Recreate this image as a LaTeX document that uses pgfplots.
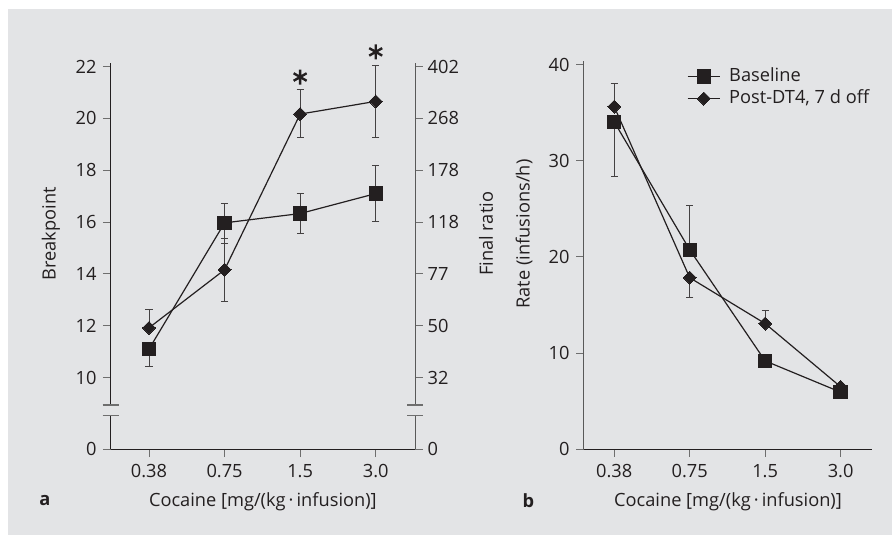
\documentclass[border=0pt]{standalone}
\usepackage{pgfplots}
\pgfplotsset{compat=1.18}
\usepackage{fontspec}
\setmainfont{Open Sans}
\definecolor{bg}{RGB}{227,228,230}
\definecolor{ink}{RGB}{35,31,32}
\definecolor{tickc}{RGB}{110,110,110}
\newcommand{\fs}{\fontsize{18.3}{22}\selectfont}
\pgfplotsset{
  common/.style={
    scale only axis, anchor=south west, clip=false,
    tick align=outside, major tick length=7.7bp,
    tick style={tickc, line width=0.9bp},
    tick label style={font=\fs, ink},
    /pgf/number format/assume math mode=true,
    axis line style={line width=0.9bp},
    xticklabel style={yshift=-3.5bp},
  },
  base/.style={ink, line width=1.2bp, mark=square*, mark size=6.7bp,
    mark options={fill=ink, draw=ink, line width=0pt},
    error bars/.cd, y dir=both, y explicit,
    error bar style={line width=0.9bp, ink!85},
    error mark options={rotate=90, mark size=3.6bp, line width=0.9bp, ink!85}},
  post/.style={ink, line width=1.2bp, mark=square*, mark size=4.6bp,
    mark options={rotate=45, fill=ink, draw=ink, line width=0pt},
    error bars/.cd, y dir=both, y explicit,
    error bar style={line width=0.9bp, ink!85},
    error mark options={rotate=90, mark size=3.6bp, line width=0.9bp, ink!85}},
}
\begin{document}
\begin{tikzpicture}
\useasboundingbox (0,0) rectangle (892bp,535bp);
\fill[white] (0,0) rectangle (892bp,535bp);
\fill[bg] (8bp,0) rectangle (892bp,525.7bp);

% ---------- Panel a (left axis) ----------
\begin{axis}[common,
  at={(110.7bp,85.7bp)}, width=304.3bp, height=386bp,
  xmin=-0.507, xmax=3.52, ymin=7.23, ymax=22.13,
  axis x line*=bottom, axis y line*=left,
  x axis line style={ink}, y axis line style={ink},
  yticklabel style={xshift=-3bp},
  xtick={0,1,2,3}, xticklabels={0.38,0.75,1.5,3.0},
  ytick={7.23,10,12,14,16,18,20,22},
  yticklabels={0,10,12,14,16,18,20,22},
  xlabel={Cocaine [mg/(kg\,·\,infusion)]},
  ylabel={Breakpoint},
  every axis x label/.style={at={(axis description cs:0.5,0)}, anchor=center, yshift=-52.4bp, font=\fs, text=ink},
  every axis y label/.style={at={([xshift=-59.7bp]axis description cs:0,0.558)}, rotate=90, anchor=center, font=\fs, text=ink},
]
\addplot[base] coordinates {
  (0,11.10) += (0,0) -= (0,0.68)
  (1,15.97) += (0,0.74) -= (0,0.80)
  (2,16.33) += (0,0.77) -= (0,0.77)
  (3,17.10) += (0,1.08) -= (0,1.06)
};
\addplot[post] coordinates {
  (0,11.92) += (0,0.71) -= (0,0)
  (1,14.16) += (0,1.22) -= (0,1.23)
  (2,20.17) += (0,0.96) -= (0,0.89)
  (3,20.66) += (0,1.39) -= (0,1.38)
};
\addplot[only marks, mark=asterisk, mark size=7.5bp, mark options={line width=2.4bp, ink}]
  coordinates {(2,21.6) (3,22.57)};
\fill[bg] ([xshift=-3bp]axis cs:-0.507,8.525) rectangle ([xshift=3bp]axis cs:-0.507,8.94);
\draw[tickc, line width=1.1bp] ([xshift=-8bp]axis cs:-0.507,8.525) -- ([xshift=8bp]axis cs:-0.507,8.525);
\draw[tickc, line width=1.1bp] ([xshift=-8bp]axis cs:-0.507,8.94) -- ([xshift=8bp]axis cs:-0.507,8.94);
\end{axis}

% ---------- Panel a (right axis) ----------
\begin{axis}[common,
  at={(110.7bp,85.7bp)}, width=304.3bp, height=386bp,
  xmin=-0.507, xmax=3.52, ymin=7.23, ymax=22.13,
  axis x line=none, axis y line*=right,
  y axis line style={black!65},
  yticklabel style={xshift=1.5bp},
  ytick={7.23,10,12,14,16,18,20,22},
  yticklabels={0,32,50,77,118,178,268,402},
  ylabel={Final ratio},
  every axis y label/.style={at={([xshift=71bp]axis description cs:1,0.558)}, rotate=90, anchor=center, font=\fs, text=ink},
]
\addplot[draw=none, forget plot] coordinates {(0,10) (3,10)};
\fill[bg] ([xshift=-3bp]axis cs:3.52,8.525) rectangle ([xshift=3bp]axis cs:3.52,8.94);
\draw[tickc, line width=1.1bp] ([xshift=-8bp]axis cs:3.52,8.525) -- ([xshift=8bp]axis cs:3.52,8.525);
\draw[tickc, line width=1.1bp] ([xshift=-8bp]axis cs:3.52,8.94) -- ([xshift=8bp]axis cs:3.52,8.94);
\end{axis}

% ---------- Panel b ----------
\begin{axis}[common,
  at={(583.7bp,85.7bp)}, width=288.6bp, height=388.6bp,
  xmin=-0.405, xmax=3.42, ymin=0, ymax=40.4,
  axis x line*=bottom, axis y line*=left,
  x axis line style={ink}, y axis line style={black!65},
  yticklabel style={xshift=-3bp},
  xtick={0,1,2,3}, xticklabels={0.38,0.75,1.5,3.0},
  ytick={0,10,20,30,40}, yticklabels={0,10,20,30,40},
  xlabel={Cocaine [mg/(kg\,·\,infusion)]},
  ylabel={Rate (infusions/h)},
  every axis x label/.style={at={(axis description cs:0.5,0)}, anchor=center, yshift=-52.4bp, font=\fs, text=ink},
  every axis y label/.style={at={([xshift=-59.7bp]axis description cs:0,0.554)}, rotate=90, anchor=center, font=\fs, text=ink},
  legend style={draw=none, fill=none, font=\fs, text=ink,
    at={(axis description cs:0.357,0.986)}, anchor=north west,
    inner sep=0pt, row sep=1.5bp,
    nodes={text height=13.5bp, text depth=4bp, inner sep=1.5bp},
    /tikz/every odd column/.append style={column sep=7bp}},
  legend cell align=left,
  legend image code/.code={\draw[mark repeat=2,mark phase=2] plot coordinates {(0bp,0bp) (16.3bp,0bp) (32.6bp,0bp)};},
]
\addplot[base] coordinates {
  (0,34.03) += (0,0) -= (0,5.62)
  (1,20.74) += (0,4.56) -= (0,0)
  (2,9.19) += (0,0) -= (0,0)
  (3,5.94) += (0,0) -= (0,0)
};
\addplot[post] coordinates {
  (0,35.62) += (0,2.37) -= (0,0)
  (1,17.84) += (0,0) -= (0,2.01)
  (2,13.07) += (0,1.35) -= (0,0)
  (3,6.50) += (0,0) -= (0,0)
};
\legend{Baseline, {Post-DT4, 7 d off}}
\end{axis}

\node[font=\fs\bfseries, text=ink] at (45bp,34bp) {a};
\node[font=\fs\bfseries, text=ink] at (528.3bp,34bp) {b};
\end{tikzpicture}
\end{document}
